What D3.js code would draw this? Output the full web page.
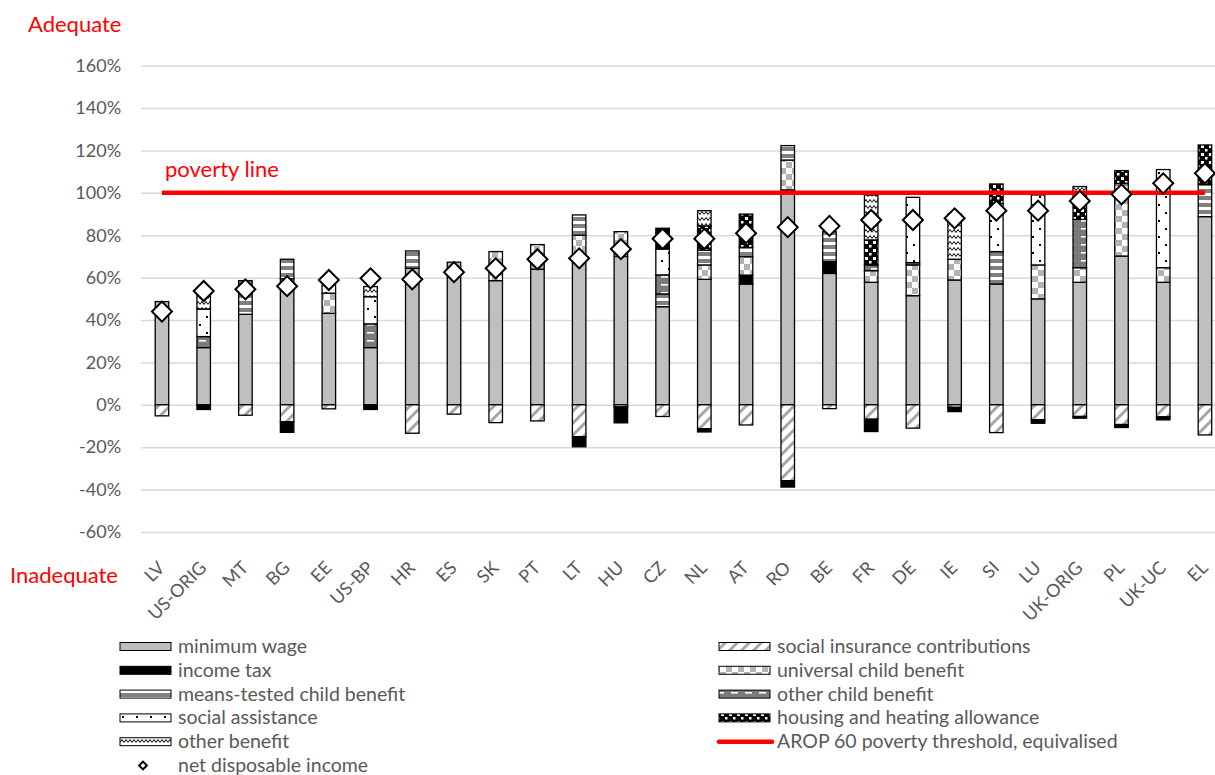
<!DOCTYPE html>
<html><head><meta charset="utf-8">
<script src="https://cdn.jsdelivr.net/npm/d3@7"></script>
<style>
body{margin:0;background:#fff;}
svg{display:block;font-family:Lato,"Open Sans",sans-serif;}
</style>
</head><body>
<svg id="chart" width="1215" height="775"></svg>
<script>
// ---------------- DATA ----------------
const categories = ["LV","US-ORIG","MT","BG","EE","US-BP","HR","ES","SK","PT","LT","HU","CZ","NL","AT","RO","BE","FR","DE","IE","SI","LU","UK-ORIG","PL","UK-UC","EL"];
const minimumWage      = [48.7,27.0,42.7,59.5,43.2,27.0,64.4,67.3,58.6,64.0,71.0,70.0,46.3,59.2,57.0,101.4,62.0,57.8,51.5,58.9,57.0,50.0,57.8,70.2,57.8,88.8];
const socialInsurance  = [-5.2,0,-4.9,-8.0,-1.9,0,-13.4,-4.4,-8.4,-7.6,-15.0,-1.0,-5.5,-11.3,-9.5,-35.8,-1.8,-6.8,-11.0,-1.2,-13.1,-7.1,-5.5,-9.3,-5.7,-14.2];
const incomeTax        = [0,-2.2,0,-5.0,0,-2.2,0,0,0,0,-4.8,-7.5,0,-1.5,4.2,-3.0,5.5,-5.8,0,-2.0,0,-1.6,-0.8,-1.4,-1.4,0];
const universalChild   = [0,0,0,0,9.5,0,0,0,13.7,11.6,9.0,11.7,0,6.8,8.7,14.1,0,5.5,14.5,9.8,0,16.0,6.9,29.8,6.9,0];
const meansTestedChild = [0,0,15.9,9.2,0,0,8.2,0,0,0,9.6,0,6.0,7.0,4.4,6.8,14.2,0,0,0,15.3,0,0,4.5,0,15.2];
const otherChild       = [0,5.2,0,0,0,11.2,0,0,0,0,0,0,9.0,0,0,0,0,2.7,1.1,0,0,0,22.8,0,0,0];
const socialAssistance = [0,13.0,0,0,3.8,12.8,0,0,0,0,0,0,12.2,0,0,0,0,0,30.8,0,22.7,33.0,0,0,46.3,0];
const housingHeating   = [0,0,0,0,0,0,0,0,0,0,0,0,9.8,11.4,15.7,0,0,11.8,0,0,9.2,0,12.0,6.0,0,18.6];
const otherBenefit     = [0,7.4,0,0,0,4.8,0,0,0,0,0,0,0,7.2,0,0,0,21.2,0,21.3,0,0,3.5,0,0,0];
const netDisposable    = [44.0,53.7,54.5,56.0,58.9,59.7,59.2,62.6,64.4,68.7,69.1,73.5,78.3,78.3,81.0,83.8,84.4,87.2,87.2,88.0,91.6,91.6,96.2,99.3,104.5,109.2];
const povertyThreshold = [100,100,100,100,100,100,100,100,100,100,100,100,100,100,100,100,100,100,100,100,100,100,100,100,100,100];
const yTicks = [-60,-40,-20,0,20,40,60,80,100,120,140,160];
const seriesKeys   = ["minimumWage","socialInsurance","incomeTax","universalChild","meansTestedChild","otherChild","socialAssistance","housingHeating","otherBenefit"];
const seriesLabels = ["minimum wage","social insurance contributions","income tax","universal child benefit","means-tested child benefit","other child benefit","social assistance","housing and heating allowance","other benefit"];
const lineLabel = "AROP 60 poverty threshold, equivalised";
const markerLabel = "net disposable income";

// ---------------- SETUP ----------------
const seriesValues = {minimumWage, socialInsurance, incomeTax, universalChild, meansTestedChild, otherChild, socialAssistance, housingHeating, otherBenefit};
const rows = categories.map((c,i)=>{
  const r = {category:c};
  seriesKeys.forEach(k=>r[k]=seriesValues[k][i]);
  return r;
});

const svg = d3.select("#chart");
const textColor = "#595959";
const plotLeft = 141.1, plotRight = 1225.8;
const x = d3.scaleBand().domain(categories).range([plotLeft, plotRight]).paddingInner(0.676).paddingOuter(0.338);
const y = d3.scaleLinear().domain([-60,160]).range([532, 65.7]);

// ---------------- PATTERNS ----------------
const defs = svg.append("defs");
function pat(id,w,h){ return defs.append("pattern").attr("id",id).attr("patternUnits","userSpaceOnUse").attr("width",w).attr("height",h); }
let p = pat("p-sic",12,12);
p.append("rect").attr("width",12).attr("height",12).attr("fill","#fff");
p.append("path").attr("d","M-3,3 L3,-3 M0,12 L12,0 M9,15 L15,9").attr("stroke","#a6a6a6").attr("stroke-width",3);
p = pat("p-univ",12,12);
p.append("rect").attr("width",12).attr("height",12).attr("fill","#fff");
p.append("rect").attr("width",6).attr("height",6).attr("fill","#b3b3b3");
p.append("rect").attr("x",6).attr("y",6).attr("width",6).attr("height",6).attr("fill","#b3b3b3");
p = pat("p-means",8,7);
p.append("rect").attr("width",8).attr("height",7).attr("fill","#fff");
p.append("rect").attr("width",8).attr("height",4).attr("fill","#808080");
p = pat("p-otherchild",14,8);
p.append("rect").attr("width",14).attr("height",8).attr("fill","#7a7a7a");
p.append("rect").attr("x",3).attr("y",4).attr("width",7).attr("height",1.6).attr("fill","#fff");
p = pat("p-sa",14,16);
p.append("rect").attr("width",14).attr("height",16).attr("fill","#fff");
p.append("rect").attr("x",3).attr("y",4).attr("width",2).attr("height",2).attr("fill","#000");
p.append("rect").attr("x",10).attr("y",12).attr("width",2).attr("height",2).attr("fill","#000");
p = pat("p-house",8,8);
p.append("rect").attr("width",8).attr("height",8).attr("fill","#000");
p.append("rect").attr("x",1).attr("y",1).attr("width",3).attr("height",3).attr("fill","#fff");
p.append("rect").attr("x",5).attr("y",5).attr("width",2.5).attr("height",2.5).attr("fill","#fff");
p = pat("p-otherben",8,6);
p.append("rect").attr("width",8).attr("height",6).attr("fill","#fff");
p.append("path").attr("d","M0,4.5 L2,1.5 L4,4.5 L6,1.5 L8,4.5").attr("fill","none").attr("stroke","#000").attr("stroke-width",1);

const fills = {
  minimumWage:"#bfbfbf", socialInsurance:"url(#p-sic)", incomeTax:"#000",
  universalChild:"url(#p-univ)", meansTestedChild:"url(#p-means)", otherChild:"url(#p-otherchild)",
  socialAssistance:"url(#p-sa)", housingHeating:"url(#p-house)", otherBenefit:"url(#p-otherben)"
};

// ---------------- AXES / GRID ----------------
const yAxis = d3.axisLeft(y).tickValues(yTicks).tickFormat(d=>d+"%").tickSize(-(plotRight-plotLeft)).tickPadding(20);
const gy = svg.append("g").attr("transform",`translate(${plotLeft},0)`).call(yAxis);
gy.select(".domain").remove();
gy.selectAll(".tick line").attr("stroke","#d9d9d9").attr("stroke-width",1.5);
gy.selectAll(".tick text").attr("fill",textColor).style("font-size","18px").style("font-family","Lato");

const xAxis = d3.axisBottom(x).tickSize(0);
const gx = svg.append("g").attr("transform","translate(0,569)").call(xAxis);
gx.select(".domain").remove();
gx.selectAll(".tick text")
  .attr("x",0).attr("y",0).attr("dy",0)
  .attr("transform","translate(4,0) rotate(-45)")
  .style("text-anchor","end").attr("fill",textColor)
  .style("font-size","18px").style("font-family","Lato");

// ---------------- BARS ----------------
const stacked = d3.stack().keys(seriesKeys).offset(d3.stackOffsetDiverging)(rows);
const gBars = svg.append("g");
stacked.forEach(s=>{
  gBars.append("g").selectAll("rect")
    .data(s.filter(d=>d[1]-d[0]!==0))
    .join("rect")
    .attr("x",d=>x(d.data.category))
    .attr("width",x.bandwidth())
    .attr("y",d=>y(Math.max(d[0],d[1])))
    .attr("height",d=>Math.abs(y(d[0])-y(d[1])))
    .attr("fill",fills[s.key])
    .attr("stroke","#000").attr("stroke-width",1.3);
});

// ---------------- POVERTY LINE ----------------
const line = d3.line().x((d,i)=>x(categories[i])+x.bandwidth()/2).y(d=>y(d));
svg.append("path").datum(povertyThreshold).attr("d",line)
  .attr("fill","none").attr("stroke","#ff0000").attr("stroke-width",4.5);

// ---------------- MARKERS ----------------
const diamond = d3.symbol().type(d3.symbolSquare).size(200);
svg.append("g").selectAll("path").data(netDisposable).join("path")
  .attr("d",diamond)
  .attr("transform",(d,i)=>`translate(${x(categories[i])+x.bandwidth()/2},${y(d)}) rotate(45)`)
  .attr("fill","#fff").attr("stroke","#000").attr("stroke-width",2);

// ---------------- ANNOTATIONS ----------------
svg.append("text").attr("x",28).attr("y",32).text("Adequate").attr("fill","#ff0000").style("font-size","22px");
svg.append("text").attr("x",10).attr("y",583).text("Inadequate").attr("fill","#ff0000").style("font-size","22px");
svg.append("text").attr("x",165).attr("y",177).text("poverty line").attr("fill","#ff0000").style("font-size","22px");

// ---------------- LEGEND ----------------
const legendOrder = [
  {key:"minimumWage",col:0,row:0},{key:"incomeTax",col:0,row:1},{key:"meansTestedChild",col:0,row:2},
  {key:"socialAssistance",col:0,row:3},{key:"otherBenefit",col:0,row:4},
  {key:"socialInsurance",col:1,row:0},{key:"universalChild",col:1,row:1},{key:"otherChild",col:1,row:2},
  {key:"housingHeating",col:1,row:3}
];
const colX = [120,719], rowY0 = 646.5, rowStep = 23.8, swW = 51, swH = 8, legendFont = "19.5px";
const gl = svg.append("g");
legendOrder.forEach(it=>{
  const gx0 = colX[it.col], gy0 = rowY0 + it.row*rowStep;
  gl.append("rect").attr("x",gx0).attr("y",gy0-swH/2).attr("width",swW).attr("height",swH)
    .attr("fill",fills[it.key]).attr("stroke","#000").attr("stroke-width",1);
  gl.append("text").attr("x",gx0+swW+7).attr("y",gy0).attr("dy","0.33em")
    .text(seriesLabels[seriesKeys.indexOf(it.key)]).attr("fill",textColor).style("font-size",legendFont);
});
{
  const gx0 = colX[1], gy0 = rowY0 + 4*rowStep;
  gl.append("line").attr("x1",gx0).attr("x2",gx0+swW+2).attr("y1",gy0).attr("y2",gy0).attr("stroke","#ff0000").attr("stroke-width",4.5).attr("stroke-linecap","round");
  gl.append("text").attr("x",gx0+swW+7).attr("y",gy0).attr("dy","0.33em").text(lineLabel).attr("fill",textColor).style("font-size",legendFont);
}
{
  const gy0 = rowY0 + 5*rowStep;
  gl.append("path").attr("d",d3.symbol().type(d3.symbolSquare).size(30)).attr("transform",`translate(143,${gy0}) rotate(45)`)
    .attr("fill","#fff").attr("stroke","#000").attr("stroke-width",2);
  gl.append("text").attr("x",178).attr("y",gy0).attr("dy","0.33em").text(markerLabel).attr("fill",textColor).style("font-size",legendFont);
}
</script>
</body></html>
